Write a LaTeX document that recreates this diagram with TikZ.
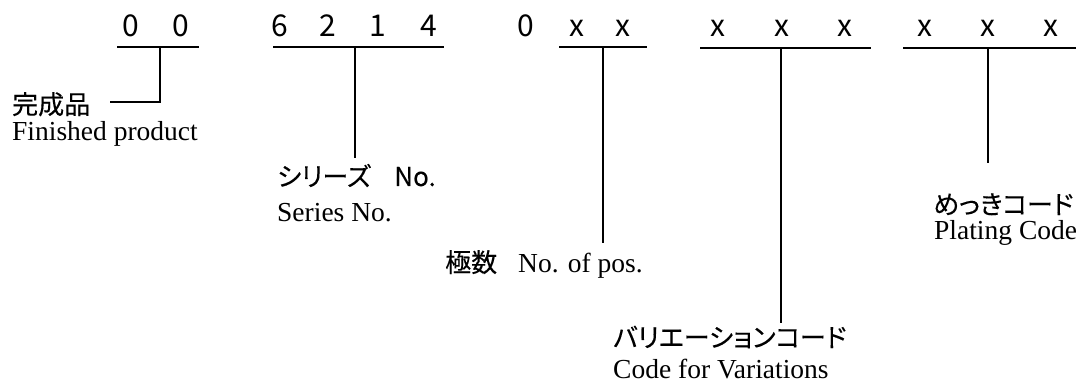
\documentclass[tikz,border=0pt]{standalone}
\usepackage{fontspec}
\setmainfont{Liberation Serif}
\newfontfamily\jp[RawFeature=+palt,FakeBold=0.15]{Noto Sans CJK JP}
\newfontfamily\jpd{Noto Sans CJK JP}
\begin{document}
\begin{tikzpicture}[x=1pt,y=-1pt,
  dig/.style={font=\jpd\fontsize{30}{33}\selectfont, anchor=base, inner sep=0pt},
  jpl/.style={font=\jp\fontsize{26}{29}\selectfont, anchor=base west, inner sep=0pt},
  enl/.style={font=\fontsize{27.5}{30}\selectfont, anchor=base west, inner sep=0pt},
  ln/.style={line width=1.8pt, line cap=butt}]
\useasboundingbox (0,0) rectangle (1080,382);
% digits
\node[dig] (d1) at (131,37) {0};
\node[dig] (d2) at (181,37) {0};
\node[dig] (d3) at (280,37) {6};
\node[dig] (d4) at (328,37) {2};
\node[dig] (d5) at (378,37) {1};
\node[dig] (d6) at (429,37) {4};
\node[dig] (d7) at (526,37) {0};
\node[dig] (d8) at (577,37) {x};
\node[dig] (d9) at (623,37) {x};
\node[dig] (d10) at (718,37) {x};
\node[dig] (d11) at (782,37) {x};
\node[dig] (d12) at (845,37) {x};
\node[dig] (d13) at (925,37) {x};
\node[dig] (d14) at (988,37) {x};
\node[dig] (d15) at (1051,37) {x};
% underline coordinates
\coordinate (u1a) at (117,47); \coordinate (u1b) at (199,47); \coordinate (t1) at (160,47);
\coordinate (u2a) at (273,47); \coordinate (u2b) at (444,47); \coordinate (t2) at (355,47);
\coordinate (u3a) at (559,47); \coordinate (u3b) at (647,47); \coordinate (t3) at (603,47);
\coordinate (u4a) at (700,48); \coordinate (u4b) at (871,48); \coordinate (t4) at (781,48);
\coordinate (u5a) at (903,48); \coordinate (u5b) at (1076,48); \coordinate (t5) at (988,48);
% line ends
\coordinate (k1) at (160,102); \coordinate (e1) at (110,102);
\coordinate (e2) at (355,158);
\coordinate (e3) at (603,243);
\coordinate (e4) at (781,323);
\coordinate (e5) at (988,163);
% labels
\node[jpl] (j1) at (12,114) {完成品};
\node[enl] (n1) at (12,141) {Finished product};
\node[jpl] (j2) at (277,186) {シリーズ\hspace{0.9em}No.};
\node[enl] (n2) at (277,222) {Series No.};
\node[jpl] (j3) at (445,272) {極数};
\node[enl] (n3) at (518,273) {No. of pos.};
\node[jpl] (j4) at (613,347) {バリエーションコード};
\node[enl] (n4) at (613,378) {Code for Variations};
\node[jpl] (j5) at (933,214) {めっきコード};
\node[enl] (n5) at (934,240) {Plating Code};
% lines
\draw[ln] (u1a) -- (u1b);
\draw[ln] (u2a) -- (u2b);
\draw[ln] (u3a) -- (u3b);
\draw[ln] (u4a) -- (u4b);
\draw[ln] (u5a) -- (u5b);
\draw[ln] (t1) -- (k1) -- (e1);
\draw[ln] (t2) -- (e2);
\draw[ln] (t3) -- (e3);
\draw[ln] (t4) -- (e4);
\draw[ln] (t5) -- (e5);
\end{tikzpicture}
\end{document}
